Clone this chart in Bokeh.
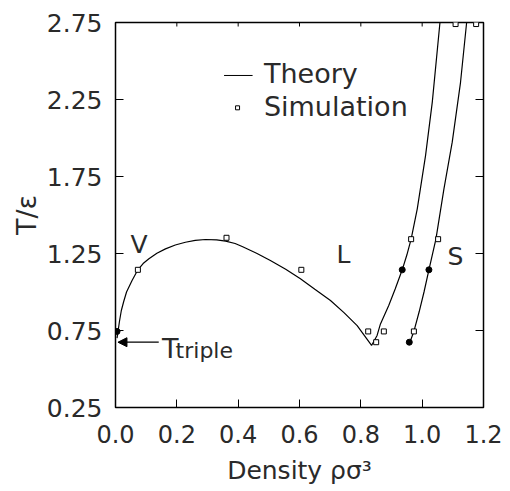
from bokeh.plotting import figure
from bokeh.models import (Label, Arrow, NormalHead, FixedTicker,
                          PrintfTickFormatter, Range1d)
from bokeh.embed import file_html
from bokeh.resources import INLINE

# ---------------- data ----------------
# Theory: vapour-liquid coexistence + freezing line
theory_lf_rho = [0.005, 0.008, 0.013, 0.019, 0.027, 0.036, 0.054, 0.073, 0.09, 0.109,
                 0.135, 0.163, 0.195, 0.228, 0.26, 0.293, 0.33, 0.359, 0.39, 0.413,
                 0.46, 0.505, 0.555, 0.603, 0.65, 0.701, 0.745, 0.788, 0.835,
                 0.853, 0.864, 0.891, 0.912, 0.935, 0.95, 0.964, 0.984, 1.011, 1.033, 1.058]
theory_lf_T = [0.70, 0.74, 0.81, 0.88, 0.94, 1.00, 1.075, 1.144, 1.185, 1.216,
               1.252, 1.28, 1.305, 1.323, 1.335, 1.341, 1.338, 1.33, 1.315, 1.295,
               1.252, 1.205, 1.148, 1.086, 1.018, 0.945, 0.866, 0.782, 0.653,
               0.718, 0.793, 0.912, 1.02, 1.144, 1.24, 1.343, 1.54, 1.886, 2.233, 2.75]
# Theory: melting line
theory_s_rho = [0.958, 0.973, 0.99, 1.006, 1.022, 1.045, 1.071, 1.098, 1.125, 1.145]
theory_s_T = [0.664, 0.744, 0.87, 1.0, 1.144, 1.345, 1.67, 1.973, 2.36, 2.75]

# Simulation (open squares)
sim_rho = [0.073, 0.362, 0.606, 0.824, 0.850, 0.875, 0.964, 0.973, 1.052, 1.109, 1.176]
sim_T = [1.144, 1.352, 1.144, 0.744, 0.674, 0.744, 1.343, 0.744, 1.343, 2.74, 2.74]
# Simulation (filled circles)
simf_rho = [0.005, 0.935, 1.022, 0.958]
simf_T = [0.744, 1.144, 1.144, 0.674]

T_triple = 0.674
arrow_rho = [0.141, 0.008]

x_ticks = [0.0, 0.2, 0.4, 0.6, 0.8, 1.0, 1.2]
y_ticks = [0.25, 0.75, 1.25, 1.75, 2.25, 2.75]
x_lim = (0.0, 1.2)
y_lim = (0.25, 2.75)

FONT = "DejaVu Sans"
TXT = "#2a2a2a"

W, H = 510, 491
BL, BR, BT, BB = 115, 27, 22, 84

p = figure(width=W, height=H, x_range=Range1d(*x_lim), y_range=Range1d(*y_lim),
           output_backend="svg", toolbar_location=None,
           min_border_left=BL, min_border_right=BR, min_border_top=BT, min_border_bottom=BB)
p.grid.visible = False
p.outline_line_color = "black"
p.outline_line_width = 1.5
p.background_fill_color = "white"
p.border_fill_color = "white"

p.xaxis.ticker = FixedTicker(ticks=x_ticks)
p.yaxis.ticker = FixedTicker(ticks=y_ticks)
for ax in p.xaxis + p.yaxis:
    ax.axis_line_color = None
    ax.major_tick_out = 0
    ax.major_tick_in = 8
    ax.minor_tick_in = 0
    ax.minor_tick_out = 0
    ax.major_tick_line_color = "black"
    ax.major_tick_line_width = 1
    ax.major_label_text_font = FONT
    ax.major_label_text_color = TXT
    ax.axis_label_text_font = FONT
    ax.axis_label_text_font_style = "normal"
    ax.axis_label_text_color = TXT

p.xaxis.formatter = PrintfTickFormatter(format="%.1f")
p.xaxis.major_label_text_font_size = "24px"
p.xaxis.major_label_standoff = 17
p.xaxis.axis_label = "Density ρσ³"
p.xaxis.axis_label_text_font_size = "25px"
p.xaxis.axis_label_standoff = 10

p.yaxis.formatter = PrintfTickFormatter(format="%.2f")
p.yaxis.major_label_text_font_size = "25px"
p.yaxis.major_label_standoff = 13
p.yaxis.axis_label = "T/ε"
p.yaxis.axis_label_text_font_size = "27px"
p.yaxis.axis_label_standoff = 2

# inward ticks on the right and top frame edges (same tick values as the axes)
fw = W - BL - BR
fh = H - BT - BB
dx = (x_lim[1] - x_lim[0]) / fw
dy = (y_lim[1] - y_lim[0]) / fh
ry = [t for t in y_ticks]
p.segment(x0=[x_lim[1]] * len(ry), y0=ry, x1=[x_lim[1] - 8 * dx] * len(ry), y1=ry,
          line_color="black", line_width=1)
tx = [t for t in x_ticks]
p.segment(x0=tx, y0=[y_lim[1]] * len(tx), x1=tx, y1=[y_lim[1] - 4 * dy] * len(tx),
          line_color="black", line_width=1)

# curves
p.line(theory_lf_rho, theory_lf_T, line_color="black", line_width=1.2)
p.line(theory_s_rho, theory_s_T, line_color="black", line_width=1.2)
p.scatter(sim_rho, sim_T, marker="square", size=5, fill_color="white",
          line_color="black", line_width=1)
p.scatter(simf_rho, simf_T, marker="circle", size=6, fill_color="black", line_color="black")

# legend (drawn manually as in the original)
leg_line_rho = [0.354, 0.447]
leg_line_T = [2.406, 2.406]
p.line(leg_line_rho, leg_line_T, line_color="black", line_width=1)
p.scatter([0.398], [2.196], marker="square", size=4, fill_color="white", line_color="black")
p.add_layout(Label(x=0.484, y=2.418, text="Theory", text_font=FONT, text_font_size="27px",
                   text_color=TXT, text_baseline="alphabetic"))
p.add_layout(Label(x=0.484, y=2.204, text="Simulation", text_font=FONT, text_font_size="27px",
                   text_color=TXT, text_baseline="alphabetic"))

# phase labels
for t, xx, yy in [("V", 0.049, 1.306), ("L", 0.721, 1.241), ("S", 1.083, 1.230)]:
    p.add_layout(Label(x=xx, y=yy, text=t, text_font=FONT, text_font_size="25px",
                       text_color=TXT, text_baseline="alphabetic"))

# triple point arrow and label
p.add_layout(Arrow(end=NormalHead(size=9, fill_color="black", line_color="black"),
                   x_start=arrow_rho[0], y_start=T_triple, x_end=arrow_rho[1], y_end=T_triple,
                   line_color="black", line_width=1.2))
p.add_layout(Label(x=0.152, y=0.635, text="T", text_font=FONT, text_font_size="27px",
                   text_color=TXT, text_baseline="alphabetic"))
p.add_layout(Label(x=0.196, y=0.618, text="triple", text_font=FONT, text_font_size="22px",
                   text_color=TXT, text_baseline="alphabetic"))

open("out.html", "w").write(file_html(p, INLINE))
